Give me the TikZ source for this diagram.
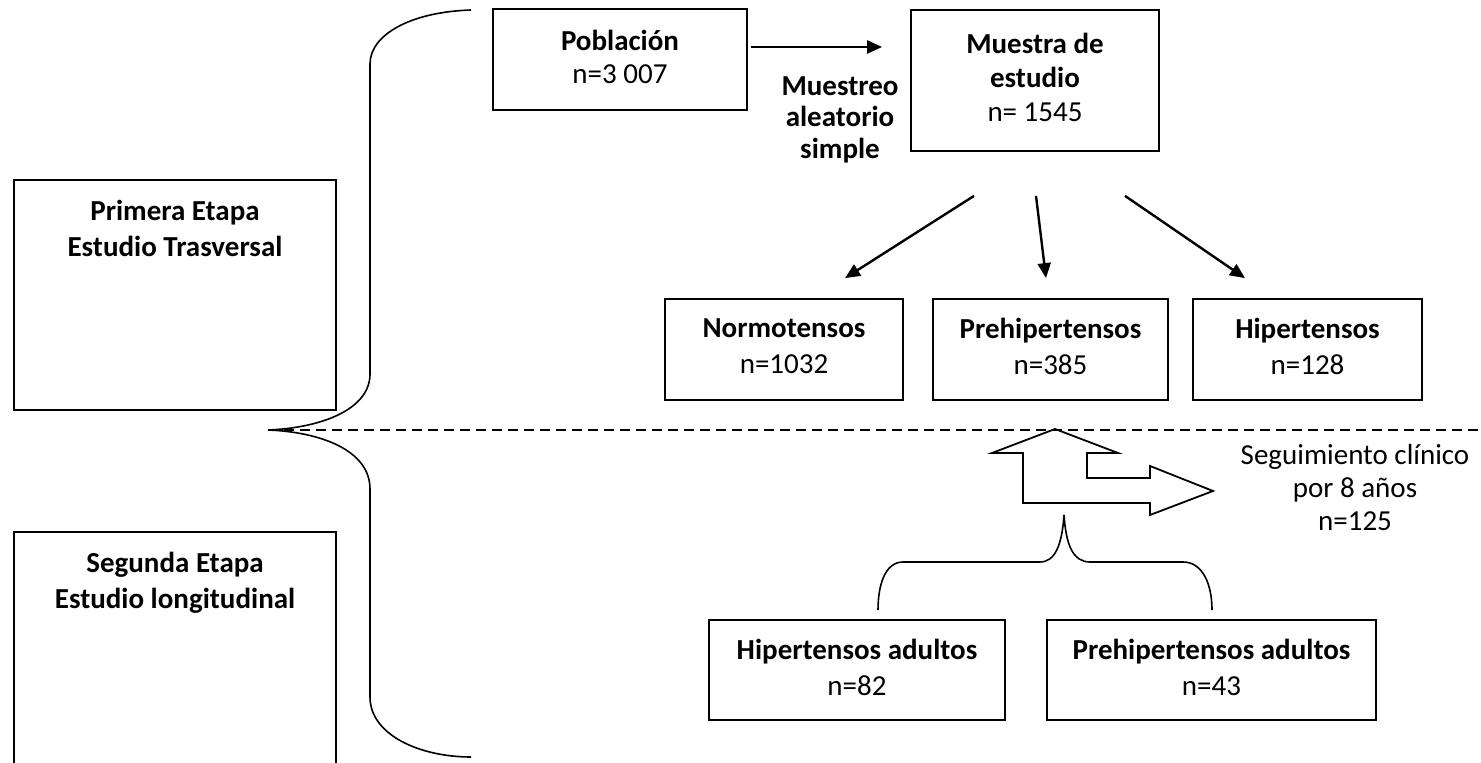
\documentclass[tikz,border=0pt]{standalone}
\usepackage{fontspec}
\setmainfont{Carlito}
\usetikzlibrary{arrows.meta,calc}

\tikzset{
  caja/.style={draw, line width=0.9pt, align=center, inner sep=0pt, text depth=3pt},
  etapa/.style={draw, line width=0.9pt, minimum width=161pt, inner sep=0pt},
  flecha/.style={line width=1.2pt, -{Triangle[length=7.5pt,width=6.5pt]}},
  llave/.style={line width=0.8pt},
}

\begin{document}
\begin{tikzpicture}[x=0.5pt,y=-0.5pt,font=\fontsize{14.5}{18}\selectfont]
  \useasboundingbox (0,0) rectangle (1481,763);
  \node[etapa, minimum height=115pt,
    label={[anchor=north,inner sep=0pt,yshift=-10.5pt,align=center]north:{\textbf{Primera Etapa}\\\textbf{Estudio Trasversal}}}] (et1) at (175,295) {};
  \node[etapa, minimum height=121.5pt,
    label={[anchor=north,inner sep=0pt,yshift=-10.5pt,align=center]north:{\textbf{Segunda Etapa}\\\textbf{Estudio longitudinal}}}] (et2) at (175,653.5) {};
  \node[caja, minimum width=127pt, minimum height=50.5pt, font=\fontsize{14.5}{16.5}\selectfont] (pob) at (620,59.5) {\textbf{Población}\\n=3 007};
  \node[caja, minimum width=124pt, minimum height=70.5pt, font=\fontsize{14.5}{17}\selectfont] (mue) at (1035,80.5) {\textbf{Muestra de}\\\textbf{estudio}\\n= 1545};
  \node[align=center, anchor=north, inner sep=0pt, font=\fontsize{14.5}{15.75}\selectfont\bfseries] (mas) at (840,76) {Muestreo\\aleatorio\\simple};
  \node[caja, minimum width=119pt, minimum height=50.5pt] (nor) at (784,349.5) {\textbf{Normotensos}\\n=1032};
  \node[caja, minimum width=117.5pt, minimum height=50.5pt] (pre) at (1050.5,349.5) {\textbf{Prehipertensos}\\n=385};
  \node[caja, minimum width=114.5pt, minimum height=50.5pt] (hip) at (1307.5,349.5) {\textbf{Hipertensos}\\n=128};
  \node[caja, minimum width=148pt, minimum height=50pt] (hipad) at (857,670) {\textbf{Hipertensos adultos}\\n=82};
  \node[caja, minimum width=164.5pt, minimum height=50pt] (preadu) at (1211.5,670) {\textbf{Prehipertensos adultos}\\n=43};
  \node[align=center, inner sep=0pt, font=\fontsize{14.5}{16.5}\selectfont] (seg) at (1355,488) {Seguimiento clínico\\por 8 años\\n=125};
  \coordinate (punta) at (268,430);
  \coordinate (fin) at (1481,430);
  \coordinate (pico) at (1064,515);

  \draw [flecha] ($(pob.east)+(3,-12.5)$) to ($(mue.west)+(-28,-33.5)$);
  \draw [flecha] ($(mue.south)+(-61,44)$) to ($(nor.north)+(61,-20)$);
  \draw [flecha] ($(mue.south)+(1,44)$) to ($(pre.north)+(-4.5,-20)$);
  \draw [flecha] ($(mue.south)+(90,44)$) to ($(hip.north)+(-62.5,-20)$);

  \draw [llave] (471,10) .. controls (410,12) and (370,35) .. (370,64) -- (370,374)
    .. controls (370,410) and (320,428) .. (punta)
    .. controls (320,432) and (370,450) .. (370,489) -- (370,697)
    .. controls (370,735) and (420,757) .. (471,757);
  \draw [dash pattern=on 5pt off 3pt, line width=0.7pt] (punta) -- (fin);

  \draw [line width=0.9pt, line join=miter] (1055,429) -- (1118,453) -- (1087,453) -- (1087,478) -- (1150,478)
    -- (1150,466) -- (1213,491) -- (1150,515) -- (1150,503) -- (1023,503) -- (1023,453) -- (992,453) -- cycle;

  \draw [llave] (878,610) .. controls (878,585) and (885,562) .. (903,562) -- (1040,562)
    .. controls (1055,562) and (1062,545) .. (pico)
    .. controls (1066,545) and (1073,562) .. (1090,562) -- (1183,562)
    .. controls (1203,562) and (1212,585) .. (1212,610);
\end{tikzpicture}
\end{document}
